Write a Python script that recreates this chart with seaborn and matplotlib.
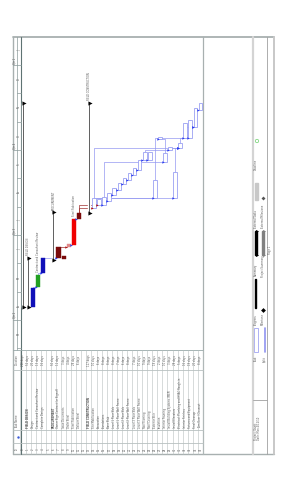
import matplotlib
matplotlib.use("Agg")
import matplotlib.pyplot as plt
import seaborn as sns
import pandas as pd

sns.set_style("white")
plt.rcParams['font.family'] = ['DejaVu Sans']

# ---------------- data ----------------
task_ids = list(range(36))
task_names = ["", "FIELD DESIGN", "Design", "Contract and Consultant Review", "Complete Design", "",
              "PROCUREMENT", "Owner Sign Contract for Signoff", "Issue Documents", "Order Steel",
              "Steel Fabrication", "Deliver Steel", "",
              "FIELD CONSTRUCTION", "Site Mobilization", "Excavation", "Foundations", "Base Slab",
              "Level 1 Floor Slab", "Level 1 Floor Wall Frame", "Level 2 Floor Slab",
              "Level 2 Floor Wall Frame", "Level 3 Floor Slab", "Level 3 Floor Wall Frame",
              "Roof Framing", "Roof Covering", "Exterior Skin", "Insulation", "Interior Framing",
              "Install Building Systems (MEP)", "Install Elevators",
              "Electrical, Plumbing and HVAC Rough-in", "Interior Finishes",
              "Fixtures and Equipment", "Final Cleanup", "Turn Over / Closeout"]
starts = [14, 14, 14, 35, 50, None, 64, 66, 65, 77, 79, 107, None, 113,
          119, 122, 122, 126, 132, 138, 144, 148, 154, 159, 169, 169, 129, 192,
          167, 180, 129, 182, 193, 193, 204, 222]
durations = [216, 52, 20, 13, 16, None, 50, 11, 3, 4, 28, 6, None, 117,
             10, 6, 8, 8, 8, 7, 6, 8, 7, 10, 9, 9, 19, 2,
             10, 3, 28, 5, 16, 19, 20, 8]
kinds = (["summary", "summary", "blue", "green", "blue", "none", "summary",
          "darkred", "darkred", "pink", "red", "darkred", "none", "summary"]
         + ["task"] * 22)
links = [(2, 3), (3, 4), (4, 7), (7, 9), (9, 10), (10, 11), (11, 14), (11, 15),
         (14, 16), (16, 17), (17, 18), (18, 19), (19, 20), (20, 21), (21, 22),
         (22, 23), (23, 24), (23, 25), (14, 26), (14, 30), (14, 31), (16, 28),
         (26, 32), (24, 29), (29, 31), (31, 33), (32, 34), (33, 34), (34, 35),
         (28, 27), (30, 31)]
label_rows = [1, 3, 6, 10, 13]
month_labels = ["M", "A", "M", "J", "J", "A", "S", "O", "N", "D", "J"]
quarter_labels = ["Qtr 2", "Qtr 3", "Qtr 4", "Qtr 1"]
legend_labels = [("Task", "Split"), ("Progress", "Milestone"), ("Summary", "Project Summary"),
                 ("External Tasks", "External Milestone"), ("Deadline", "")]

df = pd.DataFrame({"id": task_ids, "name": task_names, "start": starts,
                   "dur": durations, "kind": kinds})

colors = {"blue": "#1010b8", "green": "#22a022", "darkred": "#7a0a0a",
          "pink": "#e08a8a", "red": "#f00000"}

# ---------------- layout helpers ----------------
X0, DX = 23.0, 5.07          # pixel x of row 0 and row pitch
def px(k):
    return X0 + DX * k
def py(d):
    return 320.0 - 0.9444 * d

fig = plt.figure(figsize=(2.87, 4.91), dpi=100)
base = fig.add_axes([0, 0, 1, 1])
base.set_xlim(0, 287)
base.set_ylim(491, 0)
base.axis("off")

GL, GR, GT, GB = 20.5, 203.0, 37.0, 350.0
gx = fig.add_axes([GL / 287, 1 - GB / 491, (GR - GL) / 287, (GB - GT) / 491])
gx.set_xlim((GL - X0) / DX, (GR - X0) / DX)
gx.set_ylim((320 - GB) / 0.9444, (320 - GT) / 0.9444)
gx.axis("off")
gx.patch.set_visible(False)

FS = 1.8
tc = "#555555"
line_c = "#b8c0c0"

# ---------------- frame ----------------
base.plot([13, 274], [36.8, 36.8], color="#a8b0b0", lw=1.3)
base.plot([13, 274], [454, 454], color="#a8b0b0", lw=1.0)
base.plot([13, 13], [36.8, 454], color="#a8b0b0", lw=1.0)
base.plot([GR, GR], [36.8, 454], color="#a8b0b0", lw=0.9)
base.plot([253, 253], [36.8, 454], color="#d4d4d4", lw=1.6)
base.plot([266.7, 266.7], [36.8, 454], color="#a0a0a0", lw=0.6)
base.plot([273.5, 273.5], [36.8, 454], color="#c8c8c8", lw=1.4)
base.plot([253, 267], [400, 400], color="#a0a0a0", lw=0.6)
base.plot([GL, GL], [36.8, 454], color="#5f7373", lw=0.8)
base.plot([17.3, 17.3], [36.8, GB], color="#8a9a9a", lw=0.5)

# ---------------- timescale ----------------
for m in range(-1, 11):
    y = py(30 * m)
    if GT <= y <= GB:
        major = (m % 3 == 0)
        base.plot([13 if major else 17.3, GL], [y, y], color="#8a9a9a", lw=0.5)
    yc = py(30 * m + 15)
    if GT + 2 <= yc <= GB - 2:
        base.text(19, yc, month_labels[m + 1], rotation=90, fontsize=FS, color=tc,
                  ha="center", va="center")
for i, m in enumerate([0, 3, 6, 9]):
    base.text(15, py(30 * m) - 1.5, quarter_labels[i], rotation=90, fontsize=FS,
              color=tc, ha="center", va="bottom")

# ---------------- table ----------------
for yb in [GB, 370, 430, 443]:
    base.plot([13, GR], [yb, yb], color="#98a8a8" if yb == GB else line_c, lw=0.6)
for k in range(37):
    xb = X0 + DX * (k - 0.5)
    base.plot([xb, xb], [GB, 454], color=line_c, lw=0.4)
hx = 16.8
base.text(hx, 360, "Duration", rotation=90, fontsize=FS, color=tc, ha="center", va="center")
base.text(hx, 428, "Task Name", rotation=90, fontsize=FS, color=tc, ha="center", va="bottom")
base.text(hx, 449, "ID", rotation=90, fontsize=FS, color=tc, ha="center", va="center")
base.scatter([17.5], [437], s=3, color="#3a5ad8", marker="o", linewidths=0)
for _, r in df.iterrows():
    x = px(r["id"])
    bold = r["kind"] == "summary"
    base.text(x, 449, str(r["id"]), rotation=90, fontsize=FS, color=tc, ha="center", va="center")
    if r["name"]:
        base.text(x, 428, r["name"], rotation=90, fontsize=FS, color=tc, ha="center",
                  va="bottom", fontweight="bold" if bold else "normal")
    if pd.notna(r["dur"]):
        base.text(x, 360, "%d days" % r["dur"], rotation=90, fontsize=FS, color=tc,
                  ha="center", va="center")

# ---------------- gantt bars ----------------
valid = df.dropna(subset=["start"])
summ = valid[valid["kind"] == "summary"]
gx.bar(summ["id"], summ["dur"], bottom=summ["start"], width=0.42, color="black", zorder=4)
caps = pd.DataFrame({"x": list(summ["id"] + 0.18) * 2,
                     "y": list(summ["start"]) + list(summ["start"] + summ["dur"])})
sns.scatterplot(data=caps, x="x", y="y", ax=gx, marker=">", s=9, color="black",
                linewidth=0, zorder=5, legend=False)
for kind, col in colors.items():
    sub = valid[valid["kind"] == kind]
    gx.bar(sub["id"], sub["dur"], bottom=sub["start"], width=0.8, color=col,
           edgecolor=col, linewidth=0.3, zorder=4)
tasks = valid[valid["kind"] == "task"]
gx.bar(tasks["id"], tasks["dur"], bottom=tasks["start"], width=0.72, color="white",
       edgecolor="#9aa0f2", linewidth=0.6, zorder=3)

# links
heads = []
for p, s in links:
    yp = starts[p] + durations[p]
    ys = starts[s]
    kp = kinds[p]
    if kp in ("darkred",):
        lc = "#a03030"
    elif kp in ("pink", "red") or kinds[s] in ("pink",):
        lc = "#e8a0a0"
    else:
        lc = "#9498f2"
    gx.plot([p, p, s - 0.4], [yp, ys, ys], color=lc, lw=0.5, zorder=2)
    heads.append({"x": s - 0.45, "y": ys, "c": "#b01010" if lc == "#a03030" else "#2a3cf0"})
hd = pd.DataFrame(heads)
for c, g in hd.groupby("c"):
    sns.scatterplot(data=g, x="x", y="y", ax=gx, marker=">", s=3, color=c,
                    linewidth=0, zorder=6, legend=False)

for k in label_rows:
    gx.text(k, starts[k] + durations[k] + 3, task_names[k], rotation=90, fontsize=FS,
            color=tc, ha="center", va="bottom")

# ---------------- legend ----------------
lx1, lx2 = 256, 263
base.scatter([257], [141], s=6, marker="o", facecolors="none", edgecolors="#6fd06f", linewidths=0.5)
base.text(lx1, 170, legend_labels[4][0], rotation=90, fontsize=FS, color=tc, ha="center", va="bottom")
base.add_patch(plt.Rectangle((254.8, 183), 3.2, 17, color="#c8c8c8"))
base.scatter([263], [198], s=4, marker="D", color="#555555", linewidths=0)
base.text(lx1, 228, legend_labels[3][0], rotation=90, fontsize=FS, color=tc, ha="center", va="bottom")
base.text(lx2, 228, legend_labels[3][1], rotation=90, fontsize=FS, color=tc, ha="center", va="bottom")
base.add_patch(plt.Rectangle((255, 231), 1.6, 24, color="black"))
base.scatter([256.5, 256.5], [231, 255], s=5, marker=">", color="black", linewidths=0)
base.add_patch(plt.Rectangle((262, 231), 1.6, 24, color="#808080"))
base.scatter([263.5, 263.5], [231, 255], s=5, marker=">", color="#808080", linewidths=0)
base.text(lx1, 276, legend_labels[2][0], rotation=90, fontsize=FS, color=tc, ha="center", va="bottom")
base.text(lx2, 277, legend_labels[2][1], rotation=90, fontsize=FS, color=tc, ha="center", va="bottom")
base.add_patch(plt.Rectangle((254.8, 279), 1.6, 29, color="black"))
base.scatter([262.5], [310], s=6, marker="D", color="black", linewidths=0)
base.text(lx1, 325, legend_labels[1][0], rotation=90, fontsize=FS, color=tc, ha="center", va="bottom")
base.text(lx2, 325, legend_labels[1][1], rotation=90, fontsize=FS, color=tc, ha="center", va="bottom")
base.add_patch(plt.Rectangle((254.3, 328), 3.5, 24, facecolor="white", edgecolor="#a0a4f2", lw=0.6))
base.plot([265, 265], [328, 352], color="#9094f0", lw=1.2)
base.text(lx1, 362, legend_labels[0][0], rotation=90, fontsize=FS, color=tc, ha="center", va="bottom")
base.text(265, 362, legend_labels[0][1], rotation=90, fontsize=FS, color=tc, ha="center", va="bottom")
base.text(256, 440, "Project: Gantt", rotation=90, fontsize=FS, color=tc, ha="center", va="bottom")
base.text(259, 440, "Date: Mon 4/12/10", rotation=90, fontsize=FS, color=tc, ha="center", va="bottom")
base.text(270, 250, "Page 1", rotation=90, fontsize=FS, color=tc, ha="center", va="center")

fig.savefig("out.png", dpi=100)
